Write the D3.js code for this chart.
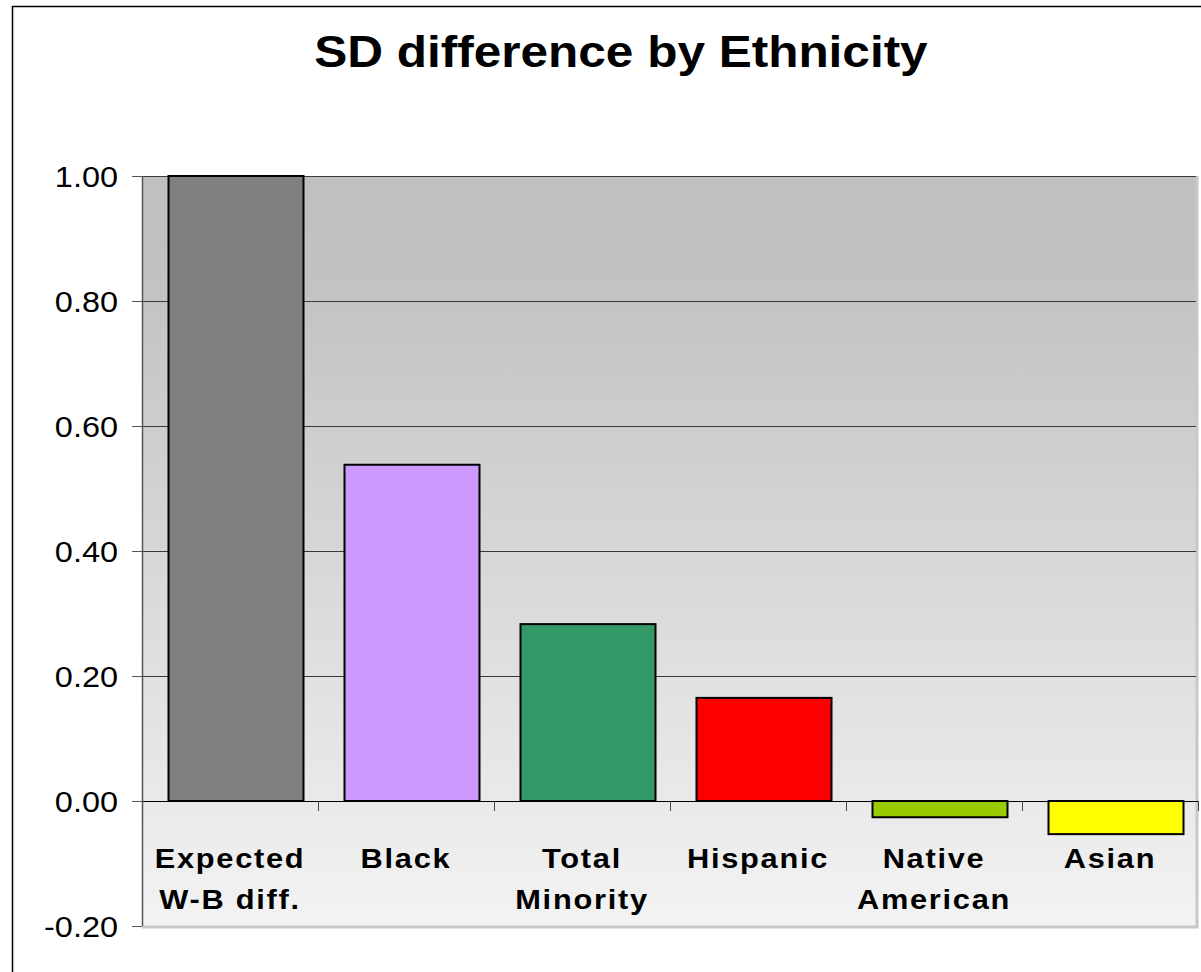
<!DOCTYPE html>
<html>
<head>
<meta charset="utf-8">
<script src="https://cdn.jsdelivr.net/npm/d3@7"></script>
<style>
  body { margin: 0; background: #fff; }
  svg { display: block; font-family: "Liberation Sans", Arial, sans-serif; }
</style>
</head>
<body>
<svg id="chart" width="1201" height="972"></svg>
<script>
const categories = ["Expected W-B diff.", "Black", "Total Minority", "Hispanic", "Native American", "Asian"]
const labelLines = [["Expected", "W-B diff."], ["Black"], ["Total", "Minority"], ["Hispanic"], ["Native", "American"], ["Asian"]]
const values = [1.00, 0.538, 0.283, 0.165, -0.026, -0.053]
const barColors = ["#808080", "#cc99ff", "#339966", "#ff0000", "#99cc00", "#ffff00"]
const yTicks = [-0.2, 0, 0.2, 0.4, 0.6, 0.8, 1.0]
const titleText = "SD difference by Ethnicity"

const svg = d3.select("#chart")

const plot = {left: 142, right: 1198, top: 176, bottom: 926}

// outer chart frame (runs off the right/bottom of the window)
svg.append("rect")
    .attr("x", 12.5).attr("y", 6.5)
    .attr("width", 1400).attr("height", 1200)
    .attr("fill", "#fff").attr("stroke", "#000").attr("stroke-width", 1.5)

const defs = svg.append("defs")
const grad = defs.append("linearGradient")
    .attr("id", "bg").attr("x1", 0).attr("y1", 0).attr("x2", 0).attr("y2", 1)
grad.append("stop").attr("offset", "0%").attr("stop-color", "#c0c0c0")
grad.append("stop").attr("offset", "12%").attr("stop-color", "#c1c1c1")
grad.append("stop").attr("offset", "100%").attr("stop-color", "#f3f3f3")

const y = d3.scaleLinear().domain([-0.2, 1]).range([plot.bottom, plot.top])
const x = d3.scaleBand().domain(categories).range([plot.left, plot.right]).paddingInner(0.233).paddingOuter(0.1165)
// bars sit a few px right of the category centres in the original
const xBar = d3.scaleBand().domain(categories).range([plot.left + 6, plot.right + 6]).paddingInner(0.233).paddingOuter(0.1165)

const fmt = d => d3.format(".2f")(d).replace("\u2212", "-")

// plot area background + light shadow edges
svg.append("rect")
    .attr("x", plot.left).attr("y", plot.top)
    .attr("width", plot.right - plot.left).attr("height", plot.bottom - plot.top)
    .attr("fill", "url(#bg)")
svg.append("line")
    .attr("x1", plot.right - 1).attr("x2", plot.right - 1)
    .attr("y1", plot.top).attr("y2", plot.bottom + 1)
    .attr("stroke", "#c8c8c8").attr("stroke-width", 3)
svg.append("line")
    .attr("x1", plot.left).attr("x2", plot.right + 0.5)
    .attr("y1", plot.bottom + 1).attr("y2", plot.bottom + 1)
    .attr("stroke", "#c8c8c8").attr("stroke-width", 3)

// gridlines
svg.append("g")
    .selectAll("line")
    .data(yTicks.filter(d => d > 0))
    .join("line")
    .attr("x1", plot.left).attr("x2", plot.right - 2)
    .attr("y1", d => Math.round(y(d)) + 0.5).attr("y2", d => Math.round(y(d)) + 0.5)
    .attr("stroke", "#3a3a3a").attr("stroke-width", 1)

// bars
svg.append("g")
    .selectAll("rect")
    .data(categories)
    .join("rect")
    .attr("x", d => xBar(d))
    .attr("width", xBar.bandwidth())
    .attr("y", (d, i) => y(Math.max(0, values[i])))
    .attr("height", (d, i) => Math.abs(y(values[i]) - y(0)))
    .attr("fill", (d, i) => barColors[i])
    .attr("stroke", "#000").attr("stroke-width", 2)

// zero line + category ticks
svg.append("line")
    .attr("x1", plot.left).attr("x2", plot.right)
    .attr("y1", Math.round(y(0)) + 0.5).attr("y2", Math.round(y(0)) + 0.5)
    .attr("stroke", "#000").attr("stroke-width", 1.2)
svg.append("g")
    .selectAll("line")
    .data(categories)
    .join("line")
    .attr("x1", d => Math.round(x(d) + x.bandwidth() / 2 + x.step() / 2) + 0.5)
    .attr("x2", d => Math.round(x(d) + x.bandwidth() / 2 + x.step() / 2) + 0.5)
    .attr("y1", y(0)).attr("y2", y(0) + 10)
    .attr("stroke", "#444").attr("stroke-width", 1)

// y axis
svg.append("line")
    .attr("x1", plot.left + 0.5).attr("x2", plot.left + 0.5)
    .attr("y1", plot.top).attr("y2", plot.bottom)
    .attr("stroke", "#555").attr("stroke-width", 1.5)
svg.append("g")
    .selectAll("line")
    .data(yTicks)
    .join("line")
    .attr("x1", plot.left - 10).attr("x2", plot.left)
    .attr("y1", d => Math.round(y(d)) + 0.5).attr("y2", d => Math.round(y(d)) + 0.5)
    .attr("stroke", "#555").attr("stroke-width", 1)
svg.append("g")
    .selectAll("text")
    .data(yTicks)
    .join("text")
    .attr("transform", d => `translate(118,${y(d) + 10.5}) scale(1.1,1)`)
    .attr("text-anchor", "end")
    .attr("font-size", 29.5)
    .attr("fill", "#000")
    .text(d => fmt(d))

// category labels
const lab = svg.append("g")
    .selectAll("g")
    .data(categories)
    .join("g")
    .attr("transform", d => `translate(${x(d) + x.bandwidth() / 2},0)`)
lab.each(function(d, i) {
    d3.select(this).selectAll("text")
        .data(labelLines[i])
        .join("text")
        .attr("transform", (t, j) => `translate(0,${868 + j * 41}) scale(1.08,1)`)
        .attr("text-anchor", "middle")
        .attr("font-size", 28.5)
        .attr("font-weight", "bold")
        .attr("letter-spacing", 1.6)
        .text(t => t)
})

// title
svg.append("text")
    .attr("transform", "translate(621,67) scale(1.1,1)")
    .attr("text-anchor", "middle")
    .attr("font-size", 45)
    .attr("font-weight", "bold")
    .text(titleText)
</script>
</body>
</html>
